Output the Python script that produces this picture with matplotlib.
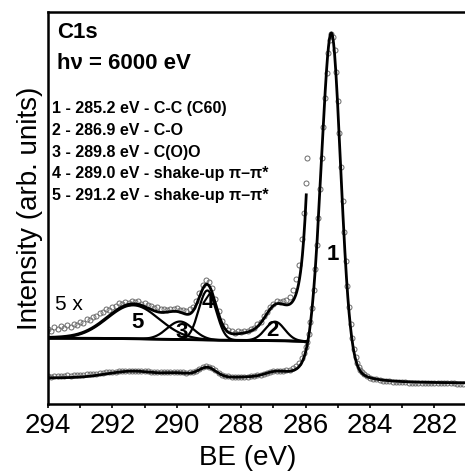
import numpy as np
import matplotlib
matplotlib.use("Agg")
from matplotlib import pyplot as plt

plt.rcParams['font.family'] = ['Liberation Sans', 'DejaVu Sans']

# measured C1s spectrum (raw trace), binding energy in eV, intensity in arb. units
be_a = np.linspace(294.0, 286.1, 80)
counts_a = [27.9, 27.5, 28.2, 27.8, 28.4, 28.0, 28.6, 28.3, 28.9, 28.7,
            29.3, 29.1, 29.8, 29.6, 30.3, 30.4, 31.0, 31.2, 31.8, 31.7,
            32.3, 32.4, 33.0, 32.8, 33.3, 33.1, 33.5, 33.2, 33.4, 32.9,
            33.0, 32.6, 32.5, 32.0, 32.2, 31.8, 31.9, 31.6, 31.9, 31.8,
            32.1, 31.7, 31.6, 31.4, 31.8, 32.2, 33.4, 35.1, 36.6, 37.6,
            37.3, 36.0, 33.8, 31.4, 29.5, 28.5, 27.6, 27.5, 27.1, 27.4,
            27.2, 27.5, 27.4, 27.9, 28.1, 28.8, 29.3, 30.4, 31.3, 32.2,
            32.8, 33.4, 33.2, 33.4, 33.6, 34.3, 35.6, 37.8, 40.7, 45.9]
be_b = np.linspace(286.05, 284.2, 38)
counts_b = [51, 57, 62, 70, 82, 96, 114, 135, 159, 186,
            215, 246, 277, 306, 331, 351, 364, 370, 367, 354,
            332, 303, 271, 237, 203, 172, 143, 118, 97, 80,
            66, 55, 47, 41.5, 37, 34, 31.8, 30.2]
be_c = np.linspace(284.1, 281.1, 31)
counts_c = [27.9, 26.4, 25.4, 24.6, 24.0, 23.5, 23.0, 22.7, 22.4, 22.2,
            22.0, 21.8, 21.7, 21.5, 21.4, 21.3, 21.2, 21.1, 21.1, 21.0,
            20.9, 20.9, 20.8, 20.8, 20.7, 20.7, 20.6, 20.6, 20.5, 20.5, 20.5]

# fitted components (pseudo-Voigt, separate half widths on each side)
peak_names = ['1', '2', '3', '4', '5']
peak_center = [285.2, 286.95, 289.9, 289.05, 291.35]
peak_height = [348, 3.8, 3.6, 9.9, 6.7]
hwhm_high = [0.38, 0.353, 0.471, 0.318, 0.942]   # high-BE side
hwhm_low = [0.35, 0.353, 0.471, 0.318, 0.942]    # low-BE side
lor_high = [0.22, 0, 0, 0, 0]
lor_low = [0.20, 0, 0, 0, 0]

# Shirley background levels
bg_low, bg_high = 20.7, 26.0

# 5x magnified copy
zoom_factor = 5
zoom_offset = -64.2
zoom_cut = 286.0

legend_lines = ['1 - 285.2 eV - C-C (C60)',
                '2 - 286.9 eV - C-O',
                '3 - 289.8 eV - C(O)O',
                '4 - 289.0 eV - shake-up \u03c0\u2013\u03c0*',
                '5 - 291.2 eV - shake-up \u03c0\u2013\u03c0*']

be = np.concatenate([be_a, be_b, be_c])
counts = np.array(counts_a + counts_b + counts_c, dtype=float)


def pv(x, c, h, wh, wl, eh, el):
    d = x - c
    w = np.where(d > 0, wh, wl)
    eta = np.where(d > 0, eh, el)
    r = (d / w) ** 2
    return h * ((1 - eta) * np.exp(-np.log(2) * r) + eta / (1 + r))


grid = np.linspace(281.0, 294.0, 1301)
comps = [pv(grid, peak_center[i], peak_height[i], hwhm_high[i], hwhm_low[i],
            lor_high[i], lor_low[i]) for i in range(5)]
total = np.sum(comps, axis=0)
cum = np.concatenate([[0], np.cumsum((total[1:] + total[:-1]) / 2)])
bg = bg_low + (bg_high - bg_low) * cum / cum[-1]
fit = bg + total


def mag(y):
    return zoom_factor * y + zoom_offset


fig = plt.figure(figsize=(4.65, 4.71), dpi=100)
ax = fig.add_axes([48 / 465, 1 - 404 / 471, 1 - 48 / 465, 392 / 471])
ax.set_xlim(294, 281.05)
ax.set_ylim(0, 392)

mk = dict(ls='none', marker='o', ms=3.6, mfc='none', mec='#6a6a6a', mew=0.7, zorder=1)
ax.plot(be, counts, **mk)
sel = be >= zoom_cut - 0.05
ax.plot(be[sel], mag(counts[sel]), **mk)

ax.plot(grid, fit, color='black', lw=2.0, zorder=3)
gsel = grid >= zoom_cut - 0.02
ax.plot(grid[gsel], mag(fit[gsel]), color='black', lw=2.0, zorder=3)
csel = grid >= zoom_cut
ax.plot(grid[csel], mag(bg[csel]), color='black', lw=2.0, zorder=3)
for i in range(1, 5):
    ax.plot(grid[csel], mag(bg[csel] + comps[i][csel]), color='black', lw=1.6, zorder=3)

for s in ['left', 'top', 'bottom']:
    ax.spines[s].set_linewidth(1.8)
ax.spines['right'].set_visible(False)
ax.set_xticks(np.arange(294, 281, -2))
ax.set_xticks(np.arange(293, 281, -2), minor=True)
ax.set_yticks([])
ax.tick_params(axis='x', which='both', direction='out', length=3, width=1.2,
               labelsize=20, pad=3.5)


def px(x, y):
    return x / 465, 1 - y / 471


fig.text(*px(30, 208), 'Intensity (arb. units)', rotation=90, ha='center',
         va='center', fontsize=20)
fig.text(*px(248, 465), 'BE (eV)', ha='center', va='baseline', fontsize=20)

fig.text(*px(57, 38), 'C1s', fontsize=16, fontweight='bold', va='baseline')
fig.text(*px(57, 69), 'h\u03bd = 6000 eV', fontsize=16, fontweight='bold', va='baseline')
for k, line in enumerate(legend_lines):
    fig.text(*px(52, 113.3 + 21.7 * k), line, fontsize=11.5, fontweight='bold',
             va='baseline')
fig.text(*px(55, 310), '5 x', fontsize=15, va='baseline')

label_pos = [(333, 254), (272, 331), (182, 332), (208, 303), (138, 322)]
for name, (x, y) in zip(peak_names, label_pos):
    fig.text(*px(x, y), name, fontsize=16, fontweight='bold', ha='center',
             va='center', zorder=1.5)

fig.savefig('out.png', dpi=100)
